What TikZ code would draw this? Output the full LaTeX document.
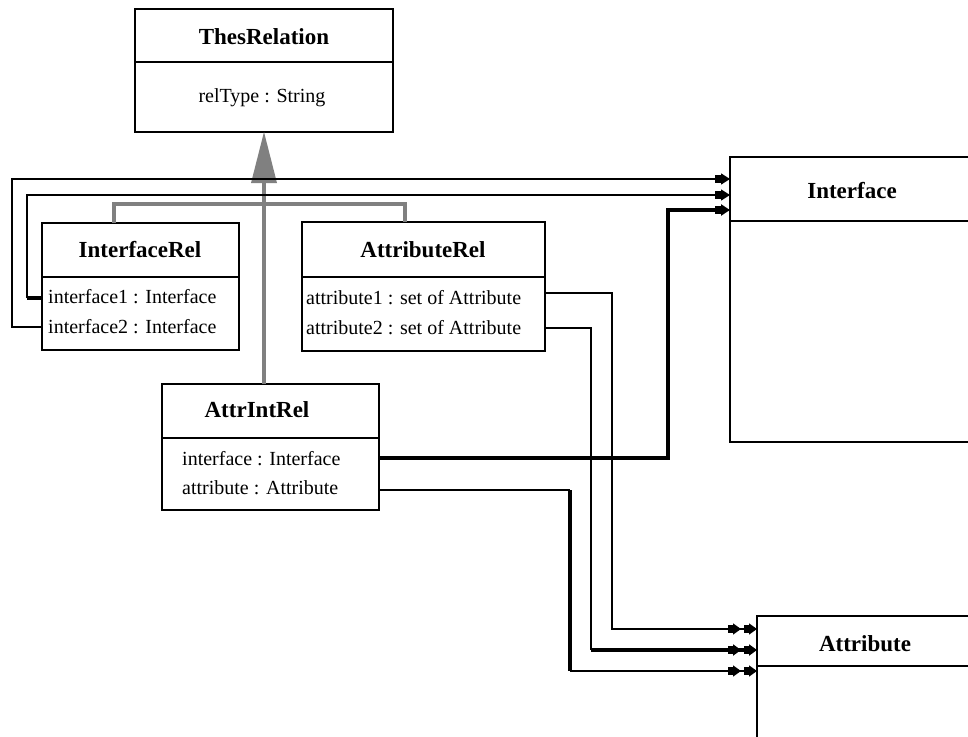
\documentclass[tikz,border=0pt]{standalone}
\usepackage{fontspec}
\setmainfont{Liberation Serif}
\usetikzlibrary{arrows.meta}
\begin{document}
\begin{tikzpicture}[x=1pt,y=-1pt,
  cls/.style={draw=black, line width=2.8pt, fill=white, inner sep=0pt, outer sep=0pt, anchor=north west},
  ttl/.style={font=\fontsize{23}{26}\selectfont\bfseries, anchor=base, inner sep=0pt},
  att/.style={font=\fontsize{20}{24}\selectfont, anchor=base west, inner sep=0pt},
  divline/.style={line width=1.8pt},
  conn/.style={line width=1.5pt},
  connthick/.style={line width=3.2pt},
  gen/.style={draw=gray, line width=4pt},
  toIF/.style={-{Rectangle[length=6pt,width=8pt,sep=0pt]Triangle[length=9pt,width=11pt,sep=0pt]}},
  toAT/.style={-{Rectangle[length=5pt,width=8pt,sep=0pt]Triangle[length=8pt,width=11pt,sep=3pt]Rectangle[length=5pt,width=8pt,sep=0pt]Triangle[length=8pt,width=11pt,sep=0pt]}},
]
\useasboundingbox (0,0) rectangle (968,736);
\clip (0,0) rectangle (968,736);
\fill[white] (0,0) rectangle (968,736);

% class boxes
\node[cls, minimum width=258pt, minimum height=123pt] (thes) at (135,9) {};
\node[cls, minimum width=197pt, minimum height=127pt] (irel) at (42,223) {};
\node[cls, minimum width=243pt, minimum height=129pt] (arel) at (302,222) {};
\node[cls, minimum width=217pt, minimum height=126pt] (aint) at (162,384) {};
\node[cls, minimum width=244pt, minimum height=285pt] (iface) at (730,157) {};
\node[cls, minimum width=217pt, minimum height=160pt] (attr) at (757,616) {};

% compartment dividers
\draw[divline] (thes.west |- 0,62) -- (thes.east |- 0,62);
\draw[divline] (irel.west |- 0,277) -- (irel.east |- 0,277);
\draw[divline] (arel.west |- 0,277) -- (arel.east |- 0,277);
\draw[divline] (aint.west |- 0,438) -- (aint.east |- 0,438);
\draw[divline] (iface.west |- 0,221) -- (iface.east |- 0,221);
\draw[divline] (attr.west |- 0,666) -- (attr.east |- 0,666);

% texts
\node[ttl] (thesT) at (264,44) {ThesRelation};
\node[att, anchor=base] (thesA) at (262,102) {relType : String};
\node[ttl] (irelT) at (140,257) {InterfaceRel};
\node[att] (irelA1) at (48,303) {interface1 : Interface};
\node[att] (irelA2) at (48,333) {interface2 : Interface};
\node[ttl] (arelT) at (423,257) {AttributeRel};
\node[att] (arelA1) at (306,304) {attribute1 : set of Attribute};
\node[att] (arelA2) at (306,334) {attribute2 : set of Attribute};
\node[ttl] (aintT) at (257,417) {AttrIntRel};
\node[att] (aintA1) at (182,465) {interface : Interface};
\node[att] (aintA2) at (182,494) {attribute : Attribute};
\node[ttl] (ifaceT) at (852,198) {Interface};
\node[ttl] (attrT) at (865,651) {Attribute};

% generalization (gray)
\coordinate (gtip) at (thes.south);
\coordinate (gbase) at ([yshift=-51pt]thes.south);
\fill[gray] (gtip) -- ([xshift=-13pt]gbase) -- ([xshift=13pt]gbase) -- cycle;
\draw[gen] (gbase) -- (aint.north -| gbase);
\draw[gen] (irel.north -| 114,0) -- (114,204) -- (405,204) -- (arel.north -| 405,0);

% associations
\coordinate (i1) at (irel.west |- 0,298);
\coordinate (i2) at (irel.west |- 0,327);
\coordinate (a1) at (arel.east |- 0,293);
\coordinate (a2) at (arel.east |- 0,328);
\coordinate (x1) at (aint.east |- 0,458);
\coordinate (x2) at (aint.east |- 0,490);

\draw[conn, toIF] (i2) -- (12,327) -- (12,179) -- (iface.west |- 0,179);
\draw[connthick] (i1) -- (27,298);
\draw[conn, toIF] (27,298) -- (27,195) -- (iface.west |- 0,195);
\draw[connthick, toIF] (x1) -- (668,458) -- (668,210) -- (iface.west |- 0,210);
\draw[conn, toAT] (a1) -- (612,293) -- (612,629) -- (attr.west |- 0,629);
\draw[conn] (a2) -- (591,328) -- (591,650);
\draw[connthick, toAT] (591,650) -- (attr.west |- 0,650);
\draw[conn] (x2) -- (570,490);
\draw[connthick] (570,490) -- (570,671);
\draw[conn, toAT] (570,671) -- (attr.west |- 0,671);
\end{tikzpicture}
\end{document}
